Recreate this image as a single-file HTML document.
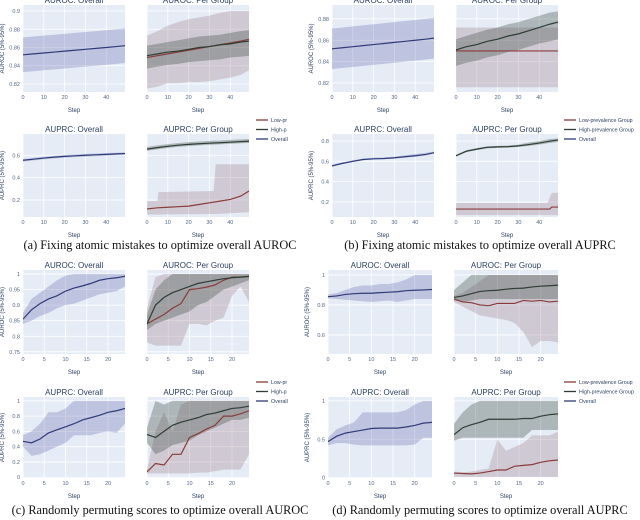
<!DOCTYPE html>
<html><head><meta charset="utf-8"><style>
body{margin:0;background:#fff;width:640px;height:520px;overflow:hidden}
svg{display:block;font-family:"Liberation Sans",sans-serif}
</style></head><body>
<svg id="fig" width="640" height="520" viewBox="0 0 640 520"></svg>
<script>
// ---- data ----
const A_X=[0,5,10,15,20,25,30,35,40,45,49];
const C_X=[0,2,4,6,8,10,12,14,16,18,20,22,24];
// (a)
const a_roc_ov_mean=[0.852,0.853,0.854,0.855,0.856,0.857,0.858,0.859,0.860,0.861,0.862];
const a_roc_ov_lo=[0.833,0.834,0.835,0.836,0.837,0.838,0.839,0.840,0.841,0.842,0.843];
const a_roc_ov_hi=[0.871,0.872,0.873,0.874,0.875,0.876,0.877,0.878,0.879,0.880,0.881];
const a_roc_low_mean=[0.849,0.851,0.853,0.855,0.857,0.859,0.861,0.863,0.865,0.867,0.869];
const a_roc_low_lo=[0.815,0.817,0.821,0.821,0.822,0.822,0.823,0.825,0.827,0.830,0.835];
const a_roc_low_hi=[0.873,0.878,0.884,0.888,0.891,0.893,0.895,0.898,0.900,0.900,0.900];
const a_roc_high_mean=[0.851,0.853,0.855,0.856,0.858,0.860,0.861,0.863,0.864,0.866,0.867];
const a_roc_high_lo=[0.837,0.839,0.841,0.842,0.844,0.845,0.846,0.847,0.849,0.850,0.851];
const a_roc_high_hi=[0.862,0.864,0.866,0.868,0.870,0.872,0.873,0.874,0.876,0.878,0.879];
const a_prc_ov_mean=[0.555,0.565,0.575,0.583,0.590,0.595,0.600,0.604,0.608,0.612,0.615];
const a_prc_ov_lo=[0.543,0.553,0.563,0.571,0.578,0.583,0.588,0.592,0.596,0.600,0.603];
const a_prc_ov_hi=[0.567,0.577,0.587,0.595,0.602,0.607,0.612,0.616,0.620,0.624,0.627];
const a_prc_high_mean=[0.655,0.668,0.680,0.690,0.697,0.703,0.708,0.712,0.717,0.722,0.725];
const a_prc_high_lo=[0.640,0.653,0.665,0.675,0.682,0.688,0.693,0.697,0.702,0.707,0.710];
const a_prc_high_hi=[0.675,0.688,0.700,0.710,0.717,0.723,0.728,0.732,0.737,0.742,0.745];
const a_prc_low_mean=[0.12,0.13,0.135,0.14,0.145,0.16,0.175,0.19,0.205,0.235,0.28];
const a_prc_low_lo=[0.07,0.07,0.07,0.07,0.07,0.07,0.075,0.08,0.08,0.085,0.09];
const a_prc_lowband_x=[0,5,5.5,32,33,49];
const a_prc_lowband_lo=[0.07,0.07,0.07,0.075,0.075,0.09];
const a_prc_lowband_hi=[0.19,0.19,0.27,0.28,0.52,0.52];
// (b)
const b_roc_low_mean=[0.85,0.85,0.85,0.85,0.85,0.85,0.85,0.85,0.85,0.85,0.85];
const b_roc_low_lo=[0.816,0.816,0.816,0.816,0.816,0.816,0.816,0.816,0.816,0.816,0.816];
const b_roc_low_hi=[0.872,0.872,0.872,0.872,0.872,0.872,0.872,0.872,0.872,0.872,0.872];
const b_roc_high_mean=[0.851,0.854,0.856,0.859,0.861,0.864,0.866,0.869,0.872,0.875,0.877];
const b_roc_high_lo=[0.836,0.839,0.841,0.844,0.846,0.849,0.851,0.854,0.857,0.859,0.861];
const b_roc_high_hi=[0.861,0.864,0.867,0.870,0.872,0.875,0.877,0.880,0.883,0.886,0.887];
const b_prc_ov_mean=[0.555,0.58,0.60,0.618,0.625,0.628,0.635,0.645,0.655,0.668,0.685];
const b_prc_ov_lo=[0.547,0.572,0.592,0.610,0.617,0.620,0.627,0.636,0.645,0.657,0.675];
const b_prc_ov_hi=[0.565,0.59,0.61,0.628,0.635,0.638,0.645,0.660,0.672,0.685,0.695];
const b_prc_high_mean=[0.655,0.70,0.72,0.738,0.742,0.745,0.752,0.765,0.78,0.798,0.81];
const b_prc_high_lo=[0.645,0.69,0.71,0.728,0.732,0.735,0.742,0.752,0.765,0.78,0.79];
const b_prc_high_hi=[0.665,0.71,0.73,0.748,0.752,0.755,0.765,0.785,0.80,0.82,0.825];
const b_prc_low_x=[0,45,46,49];
const b_prc_low_mean=[0.13,0.13,0.15,0.15];
const b_prc_lowband_x=[0,44,46,49];
const b_prc_lowband_lo=[0.07,0.07,0.07,0.07];
const b_prc_lowband_hi=[0.19,0.19,0.29,0.29];
// (c)
const c_roc_ov_mean=[0.855,0.885,0.905,0.92,0.93,0.945,0.955,0.962,0.97,0.98,0.985,0.988,0.993];
const c_roc_ov_lo=[0.84,0.85,0.865,0.875,0.89,0.90,0.905,0.915,0.925,0.935,0.94,0.945,0.96];
const c_roc_ov_hi=[0.875,0.92,0.94,0.96,0.98,0.995,1,1,1,1,1,1,1];
const c_roc_high_mean=[0.84,0.90,0.925,0.94,0.95,0.96,0.97,0.975,0.98,0.985,0.988,0.99,0.992];
const c_roc_high_lo=[0.82,0.84,0.85,0.86,0.87,0.88,0.90,0.91,0.93,0.95,0.96,0.97,0.98];
const c_roc_high_hi=[0.87,0.95,0.98,1,1,1,1,1,1,1,1,1,1];
const c_roc_low_mean=[0.84,0.855,0.87,0.89,0.905,0.95,0.953,0.958,0.965,0.98,0.99,0.99,0.993];
const c_roc_low_lo=[0.78,0.77,0.77,0.77,0.77,0.84,0.84,0.835,0.85,0.86,0.93,0.96,0.91];
const c_roc_low_hi=[0.89,0.99,1,1,1,1,1,1,1,1,1,1,1];
const c_prc_ov_mean=[0.47,0.45,0.50,0.58,0.62,0.66,0.70,0.75,0.78,0.81,0.85,0.87,0.90];
const c_prc_ov_lo=[0.40,0.28,0.30,0.35,0.40,0.45,0.55,0.55,0.55,0.58,0.60,0.58,0.70];
const c_prc_ov_hi=[0.55,0.60,0.70,0.85,0.85,0.90,1,1,1,1,1,1,1];
const c_prc_high_mean=[0.56,0.52,0.60,0.68,0.72,0.75,0.78,0.82,0.84,0.87,0.90,0.91,0.93];
const c_prc_high_lo=[0.45,0.30,0.35,0.42,0.45,0.48,0.55,0.60,0.65,0.70,0.75,0.75,0.78];
const c_prc_high_hi=[0.65,1,0.95,1,1,1,1,1,1,1,1,1,1];
const c_prc_low_mean=[0.07,0.18,0.16,0.30,0.30,0.52,0.57,0.63,0.68,0.80,0.80,0.83,0.87];
const c_prc_low_lo=[0.05,0.05,0.05,0.05,0.05,0.05,0.06,0.06,0.08,0.10,0.10,0.10,0.30];
const c_prc_low_hi=[0.10,0.60,0.85,0.60,0.95,1,1,1,1,1,1,1,1];
// (d)
const d_roc_ov_mean=[0.855,0.86,0.87,0.875,0.878,0.878,0.882,0.885,0.888,0.895,0.898,0.90,0.903];
const d_roc_ov_lo=[0.845,0.84,0.835,0.83,0.825,0.82,0.825,0.83,0.82,0.83,0.84,0.84,0.84];
const d_roc_ov_hi=[0.87,0.88,0.90,0.92,0.93,0.93,0.94,0.94,0.95,0.97,1,1,1];
const d_roc_high_mean=[0.85,0.86,0.875,0.89,0.895,0.898,0.905,0.91,0.912,0.92,0.925,0.928,0.932];
const d_roc_high_lo=[0.83,0.82,0.83,0.84,0.84,0.84,0.84,0.84,0.84,0.84,0.84,0.84,0.84];
const d_roc_high_hi=[0.90,0.95,1,1,1,1,1,1,1,1,1,1,1];
const d_roc_low_mean=[0.84,0.82,0.815,0.80,0.795,0.81,0.81,0.81,0.83,0.825,0.83,0.82,0.825];
const d_roc_low_lo=[0.82,0.79,0.76,0.73,0.72,0.71,0.70,0.68,0.62,0.52,0.56,0.56,0.55];
const d_roc_low_hi=[0.86,0.88,0.92,0.96,1,1,1,1,1,1,1,1,1];
const d_prc_ov_mean=[0.47,0.54,0.58,0.60,0.62,0.64,0.645,0.645,0.645,0.66,0.68,0.71,0.72];
const d_prc_ov_lo=[0.42,0.45,0.45,0.43,0.42,0.42,0.42,0.42,0.42,0.42,0.43,0.52,0.52];
const d_prc_ov_hi=[0.52,0.63,0.68,0.72,0.85,0.85,0.85,0.85,0.85,0.88,0.95,1,1];
const d_prc_high_mean=[0.56,0.65,0.69,0.72,0.76,0.76,0.76,0.76,0.77,0.77,0.80,0.82,0.83];
const d_prc_high_lo=[0.48,0.52,0.52,0.52,0.52,0.52,0.52,0.52,0.52,0.62,0.62,0.62,0.62];
const d_prc_high_hi=[0.70,0.85,0.95,1,1,1,1,1,1,1,1,1,1];
const d_prc_low_mean=[0.06,0.055,0.05,0.06,0.08,0.10,0.10,0.15,0.16,0.17,0.20,0.22,0.23];
const d_prc_low_lo=[0.01,0.01,0.01,0.01,0.01,0.01,0.01,0.01,0.01,0.01,0.01,0.01,0.01];
const d_prc_low_hi=[0.08,0.07,0.08,0.10,0.12,0.50,0.35,0.40,0.45,0.55,0.55,0.55,0.60];
// ticks
const xticks50=[0,10,20,30,40];
const xticks25=[0,5,10,15,20];
const a_roc_yt=[0.82,0.84,0.86,0.88,0.9];
const a_prc_yt=[0.2,0.4,0.6];
const b_roc_yt=[0.82,0.84,0.86,0.88];
const b_prc_yt=[0.2,0.4,0.6,0.8];
const c_roc_yt=[0.75,0.8,0.85,0.9,0.95,1];
const c_prc_yt=[0,0.2,0.4,0.6,0.8,1];
const d_roc_yt=[0.6,0.8,1];
const d_prc_yt=[0,0.5,1];

// ---- drawing ----
const NS="http://www.w3.org/2000/svg";
const fig=document.getElementById('fig');
function mk(tag,attrs,parent){const e=document.createElementNS(NS,tag);for(const k in attrs)e.setAttribute(k,attrs[k]);(parent||fig).appendChild(e);return e;}
const COL={ov:{line:'#2f3a78',band:'rgba(90,95,170,0.28)'},low:{line:'#8a3b3b',band:'rgba(150,110,125,0.28)'},high:{line:'#2e3e34',band:'rgba(55,70,60,0.32)'}};
function plot(p){
  const g=mk('g',{});
  
  
  const sx=v=>p.x+(v-p.xd[0])/(p.xd[1]-p.xd[0])*p.w;
  const sy=v=>p.y+p.h-(v-p.yd[0])/(p.yd[1]-p.yd[0])*p.h;
  const bg=mk('rect',{x:p.x,y:p.y,width:p.w,height:p.h,fill:'#e5ecf6'},g);
  
  const cid='c'+p.name;
  const cp=mk('clipPath',{id:cid},g);mk('rect',{x:p.x,y:p.y,width:p.w,height:p.h},cp);
  p.xt.forEach(t=>{mk('line',{x1:sx(t),x2:sx(t),y1:p.y,y2:p.y+p.h,stroke:'#fff','stroke-width':0.8},g);
    const tl=mk('text',{x:sx(t),y:p.y+p.h+7,'font-size':5.5,fill:'#506784','text-anchor':'middle'},g);tl.textContent=t;
    });
  p.yt.forEach(t=>{mk('line',{x1:p.x,x2:p.x+p.w,y1:sy(t),y2:sy(t),stroke:'#fff','stroke-width':0.8},g);
    if(p.showY){const tl=mk('text',{x:p.x-3,y:sy(t)+2,'font-size':5.5,fill:'#506784','text-anchor':'end'},g);tl.textContent=t;
    }});
  const inner=mk('g',{'clip-path':'url(#'+cid+')'},g);
  p.bands.forEach(b=>{let d='M'+b.x.map((v,i)=>sx(v)+','+sy(b.hi[i])).join('L');
    for(let i=b.x.length-1;i>=0;i--)d+='L'+sx(b.x[i])+','+sy(b.lo[i]);
    const e=mk('path',{d:d+'Z',fill:COL[b.c].band},inner);
    });
  p.lines.forEach(l=>{const e=mk('path',{d:'M'+l.x.map((v,i)=>sx(v)+','+sy(l.y[i])).join('L'),fill:'none',stroke:COL[l.c].line,'stroke-width':1.2},inner);
    });
  const t=mk('text',{x:p.x+p.w/2,y:p.y-2,'font-size':8,fill:'#2a3f5f','text-anchor':'middle'},g);t.textContent=p.title;
  
  const s=mk('text',{x:p.x+p.w/2,y:p.y+p.h+20,'font-size':6,fill:'#2a3f5f','text-anchor':'middle'},g);s.textContent='Step';
  
  if(p.ytitle){const cy=p.y+p.h/2,cx=p.x-19;const yt=mk('text',{x:cx,y:cy,'font-size':6,fill:'#2a3f5f','text-anchor':'middle',transform:'rotate(-90 '+cx+' '+cy+')'},g);yt.textContent=p.ytitle;
    }
}
function legend(x,y,names){
  const keys=['low','high','ov'];
  names.forEach((n,i)=>{const yy=y+i*9.5;
    mk('line',{x1:x,x2:x+12,y1:yy,y2:yy,stroke:COL[keys[i]].line,'stroke-width':1.3});
    const t=mk('text',{x:x+15,y:yy+2,'font-size':5.3,fill:'#2a3f5f'});t.textContent=n;
    });
}
function caption(x,y,txt){const t=mk('text',{x:x,y:y,'font-size':12.3,'font-family':'"Liberation Serif",serif',fill:'#111','text-anchor':'middle'});t.textContent=txt;
  }

const TOP={y:5,h:87},BOT={y:134,h:83},TOP2={y:270,h:84},BOT2={y:397,h:81};
// (a)
plot({name:'a-auroc-overall',x:23,y:TOP.y,w:102,h:TOP.h,xd:[0,49],yd:[0.8112,0.9066],xt:xticks50,yt:a_roc_yt,showY:true,title:'AUROC: Overall',ytitle:'AUROC (5%-95%)',
  bands:[{c:'ov',x:A_X,lo:a_roc_ov_lo,hi:a_roc_ov_hi}],lines:[{c:'ov',x:A_X,y:a_roc_ov_mean}]});
plot({name:'a-auroc-group',x:147,y:TOP.y,w:102,h:TOP.h,xd:[0,49],yd:[0.8112,0.9066],xt:xticks50,yt:a_roc_yt,showY:false,title:'AUROC: Per Group',
  bands:[{c:'low',x:A_X,lo:a_roc_low_lo,hi:a_roc_low_hi},{c:'high',x:A_X,lo:a_roc_high_lo,hi:a_roc_high_hi}],
  lines:[{c:'low',x:A_X,y:a_roc_low_mean},{c:'high',x:A_X,y:a_roc_high_mean}]});
plot({name:'a-auprc-overall',x:23,y:BOT.y,w:102,h:BOT.h,xd:[0,49],yd:[0.048,0.79],xt:xticks50,yt:a_prc_yt,showY:true,title:'AUPRC: Overall',ytitle:'AUPRC (5%-95%)',
  bands:[{c:'ov',x:A_X,lo:a_prc_ov_lo,hi:a_prc_ov_hi}],lines:[{c:'ov',x:A_X,y:a_prc_ov_mean}]});
plot({name:'a-auprc-group',x:147,y:BOT.y,w:102,h:BOT.h,xd:[0,49],yd:[0.048,0.79],xt:xticks50,yt:a_prc_yt,showY:false,title:'AUPRC: Per Group',
  bands:[{c:'low',x:a_prc_lowband_x,lo:a_prc_lowband_lo,hi:a_prc_lowband_hi},{c:'high',x:A_X,lo:a_prc_high_lo,hi:a_prc_high_hi}],
  lines:[{c:'low',x:A_X,y:a_prc_low_mean},{c:'high',x:A_X,y:a_prc_high_mean}]});
legend(256,120,['Low-pr','High-p','Overall']);
caption(160,249,'(a) Fixing atomic mistakes to optimize overall AUROC');
// (b)
plot({name:'b-auroc-overall',x:332,y:TOP.y,w:102,h:TOP.h,xd:[0,49],yd:[0.8116,0.893],xt:xticks50,yt:b_roc_yt,showY:true,title:'AUROC: Overall',ytitle:'AUROC (5%-95%)',
  bands:[{c:'ov',x:A_X,lo:a_roc_ov_lo,hi:a_roc_ov_hi}],lines:[{c:'ov',x:A_X,y:a_roc_ov_mean}]});
plot({name:'b-auroc-group',x:456,y:TOP.y,w:102,h:TOP.h,xd:[0,49],yd:[0.8116,0.893],xt:xticks50,yt:b_roc_yt,showY:false,title:'AUROC: Per Group',
  bands:[{c:'low',x:A_X,lo:b_roc_low_lo,hi:b_roc_low_hi},{c:'high',x:A_X,lo:b_roc_high_lo,hi:b_roc_high_hi}],
  lines:[{c:'low',x:A_X,y:b_roc_low_mean},{c:'high',x:A_X,y:b_roc_high_mean}]});
plot({name:'b-auprc-overall',x:332,y:BOT.y,w:102,h:BOT.h,xd:[0,49],yd:[0.052,0.869],xt:xticks50,yt:b_prc_yt,showY:true,title:'AUPRC: Overall',ytitle:'AUPRC (5%-95%)',
  bands:[{c:'ov',x:A_X,lo:b_prc_ov_lo,hi:b_prc_ov_hi}],lines:[{c:'ov',x:A_X,y:b_prc_ov_mean}]});
plot({name:'b-auprc-group',x:456,y:BOT.y,w:102,h:BOT.h,xd:[0,49],yd:[0.052,0.869],xt:xticks50,yt:b_prc_yt,showY:false,title:'AUPRC: Per Group',
  bands:[{c:'low',x:b_prc_lowband_x,lo:b_prc_lowband_lo,hi:b_prc_lowband_hi},{c:'high',x:A_X,lo:b_prc_high_lo,hi:b_prc_high_hi}],
  lines:[{c:'low',x:b_prc_low_x,y:b_prc_low_mean},{c:'high',x:A_X,y:b_prc_high_mean}]});
legend(564,120,['Low-prevalence Group','High-prevalence Group','Overall']);
caption(480,249,'(b) Fixing atomic mistakes to optimize overall AUPRC');
// (c)
plot({name:'c-auroc-overall',x:23,y:TOP2.y,w:102,h:TOP2.h,xd:[0,24],yd:[0.743,1.013],xt:xticks25,yt:c_roc_yt,showY:true,title:'AUROC: Overall',ytitle:'AUROC (5%-95%)',
  bands:[{c:'ov',x:C_X,lo:c_roc_ov_lo,hi:c_roc_ov_hi}],lines:[{c:'ov',x:C_X,y:c_roc_ov_mean}]});
plot({name:'c-auroc-group',x:147,y:TOP2.y,w:102,h:TOP2.h,xd:[0,24],yd:[0.743,1.013],xt:xticks25,yt:c_roc_yt,showY:false,title:'AUROC: Per Group',
  bands:[{c:'low',x:C_X,lo:c_roc_low_lo,hi:c_roc_low_hi},{c:'high',x:C_X,lo:c_roc_high_lo,hi:c_roc_high_hi}],
  lines:[{c:'low',x:C_X,y:c_roc_low_mean},{c:'high',x:C_X,y:c_roc_high_mean}]});
plot({name:'c-auprc-overall',x:23,y:BOT2.y,w:102,h:BOT2.h,xd:[0,24],yd:[-0.01,1.05],xt:xticks25,yt:c_prc_yt,showY:true,title:'AUPRC: Overall',ytitle:'AUPRC (5%-95%)',
  bands:[{c:'ov',x:C_X,lo:c_prc_ov_lo,hi:c_prc_ov_hi}],lines:[{c:'ov',x:C_X,y:c_prc_ov_mean}]});
plot({name:'c-auprc-group',x:147,y:BOT2.y,w:102,h:BOT2.h,xd:[0,24],yd:[-0.01,1.05],xt:xticks25,yt:c_prc_yt,showY:false,title:'AUPRC: Per Group',
  bands:[{c:'low',x:C_X,lo:c_prc_low_lo,hi:c_prc_low_hi},{c:'high',x:C_X,lo:c_prc_high_lo,hi:c_prc_high_hi}],
  lines:[{c:'low',x:C_X,y:c_prc_low_mean},{c:'high',x:C_X,y:c_prc_high_mean}]});
legend(256,382,['Low-pr','High-p','Overall']);
caption(160,514,'(c) Randomly permuting scores to optimize overall AUROC');
// (d)
plot({name:'d-auroc-overall',x:328,y:TOP2.y,w:104,h:TOP2.h,xd:[0,24],yd:[0.473,1.033],xt:xticks25,yt:d_roc_yt,showY:true,title:'AUROC: Overall',ytitle:'AUROC (5%-95%)',
  bands:[{c:'ov',x:C_X,lo:d_roc_ov_lo,hi:d_roc_ov_hi}],lines:[{c:'ov',x:C_X,y:d_roc_ov_mean}]});
plot({name:'d-auroc-group',x:454,y:TOP2.y,w:104,h:TOP2.h,xd:[0,24],yd:[0.473,1.033],xt:xticks25,yt:d_roc_yt,showY:false,title:'AUROC: Per Group',
  bands:[{c:'low',x:C_X,lo:d_roc_low_lo,hi:d_roc_low_hi},{c:'high',x:C_X,lo:d_roc_high_lo,hi:d_roc_high_hi}],
  lines:[{c:'low',x:C_X,y:d_roc_low_mean},{c:'high',x:C_X,y:d_roc_high_mean}]});
plot({name:'d-auprc-overall',x:328,y:BOT2.y,w:104,h:BOT2.h,xd:[0,24],yd:[-0.004,1.05],xt:xticks25,yt:d_prc_yt,showY:true,title:'AUPRC: Overall',ytitle:'AUPRC (5%-95%)',
  bands:[{c:'ov',x:C_X,lo:d_prc_ov_lo,hi:d_prc_ov_hi}],lines:[{c:'ov',x:C_X,y:d_prc_ov_mean}]});
plot({name:'d-auprc-group',x:454,y:BOT2.y,w:104,h:BOT2.h,xd:[0,24],yd:[-0.004,1.05],xt:xticks25,yt:d_prc_yt,showY:false,title:'AUPRC: Per Group',
  bands:[{c:'low',x:C_X,lo:d_prc_low_lo,hi:d_prc_low_hi},{c:'high',x:C_X,lo:d_prc_high_lo,hi:d_prc_high_hi}],
  lines:[{c:'low',x:C_X,y:d_prc_low_mean},{c:'high',x:C_X,y:d_prc_high_mean}]});
legend(564,382,['Low-prevalence Group','High-prevalence Group','Overall']);
caption(480,514,'(d) Randomly permuting scores to optimize overall AUPRC');
</script>
</body></html>
